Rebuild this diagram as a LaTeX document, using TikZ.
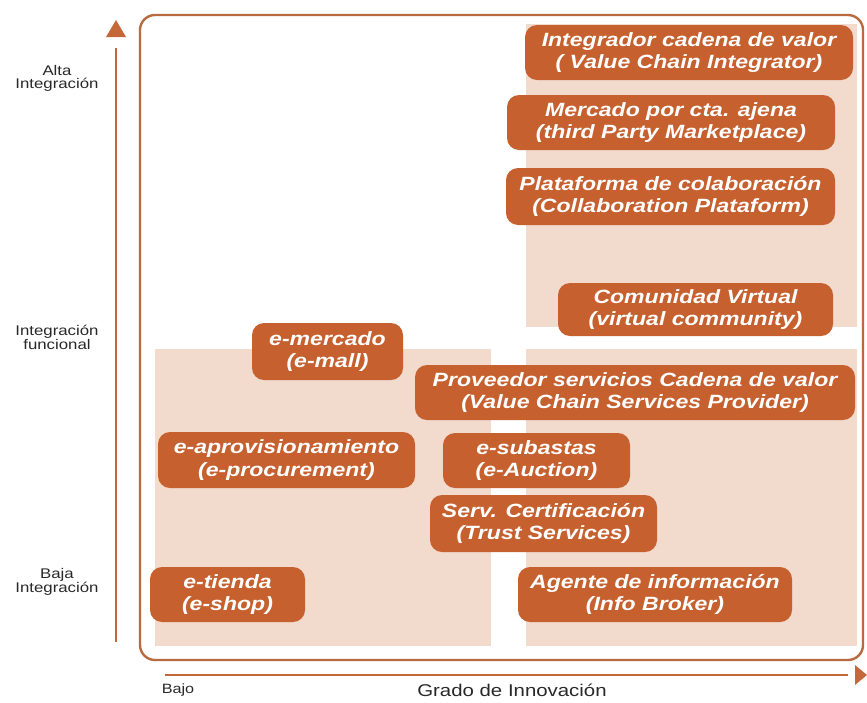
\documentclass[tikz,border=0pt]{standalone}
\usepackage{fontspec}
\setmainfont{Liberation Sans}
\newfontfamily\widefont[FakeStretch=1.2]{Liberation Sans}
\usetikzlibrary{arrows.meta}
\definecolor{boxfill}{RGB}{198,96,46}
\definecolor{zonefill}{RGB}{242,218,205}
\definecolor{framecol}{RGB}{184,106,64}
\definecolor{axiscol}{RGB}{196,104,58}
\definecolor{labelcol}{RGB}{40,40,40}
\tikzset{
  x=1pt, y=-1pt,
  zone/.style={fill=zonefill, draw=none},
  cell/.style={fill=boxfill, draw=none, rounded corners=12pt, text=white,
    align=center, inner sep=0pt,
    font=\widefont\bfseries\itshape\fontsize{19.2}{22.5}\selectfont},
  axislabel/.style={text=labelcol, align=center,
    font=\widefont\fontsize{14}{13}\selectfont},
}
% box from corner (x1,y1) to (x2,y2) with a name and text
\newcommand{\cellbox}[6]{%
  \node[cell, minimum width={#3-#1}, minimum height={#4-#2}]
    (#5) at ({(#1+#3)/2},{(#2+#4)/2}) {#6};}
\begin{document}
\begin{tikzpicture}
\useasboundingbox (0,0) rectangle (867,702);

% shaded zones
\fill[zone] (155,349) rectangle (491,646);
\fill[zone] (526,349) rectangle (857,646);
\fill[zone] (526,24) rectangle (857,327);

% frame
\draw[framecol, line width=2.4pt, rounded corners=15pt] (140,15) rectangle (863,660);

% axes
\coordinate (ybot) at (116,642);
\coordinate (ytop) at (116,48);
\coordinate (ytip) at (116,20);
\draw[axiscol, line width=2.6pt] (ybot) -- (ytop);
\fill[axiscol] (ytip) -- (126,37) -- (106,37) -- cycle;
\coordinate (xleft) at (165,675);
\coordinate (xright) at (848,675);
\draw[axiscol, line width=2.6pt] (xleft) -- (xright);
\fill[axiscol] (867,675) -- (855,665) -- (855,685) -- cycle;

% axis labels
\node[axislabel] (alta) at (57,78) {Alta\\Integración};
\node[axislabel] (func) at (57,337) {Integración\\funcional};
\node[axislabel] (baja) at (57,582) {Baja\\Integración};
\node[text=labelcol, font=\widefont\fontsize{13.5}{15}\selectfont] (bajo) at (178,690) {Bajo};
\node[text=labelcol, font=\widefont\fontsize{17}{19}\selectfont] (grado) at (512,690) {Grado de Innovación};

% business models
\cellbox{525}{25}{853}{80}{vci}{Integrador cadena de valor\\( Value Chain Integrator)}
\cellbox{507}{95}{835}{150}{tpm}{Mercado por cta. ajena\\(third Party Marketplace)}
\cellbox{506}{168}{835}{225}{cp}{Plataforma de colaboración\\(Collaboration Plataform)}
\cellbox{558}{283}{833}{336}{vc}{Comunidad Virtual\\(virtual community)}
\cellbox{252}{323}{403}{380}{emall}{e-mercado\\(e-mall)}
\cellbox{415}{365}{855}{420}{vcsp}{Proveedor servicios Cadena de valor\\(Value Chain Services Provider)}
\cellbox{158}{432}{415}{488}{eproc}{e-aprovisionamiento\\(e-procurement)}
\cellbox{443}{433}{630}{488}{eauc}{e-subastas\\(e-Auction)}
\cellbox{430}{495}{657}{552}{trust}{Serv. Certificación\\(Trust Services)}
\cellbox{150}{567}{305}{622}{eshop}{e-tienda\\(e-shop)}
\cellbox{518}{567}{792}{622}{info}{Agente de información\\(Info Broker)}
\end{tikzpicture}
\end{document}
